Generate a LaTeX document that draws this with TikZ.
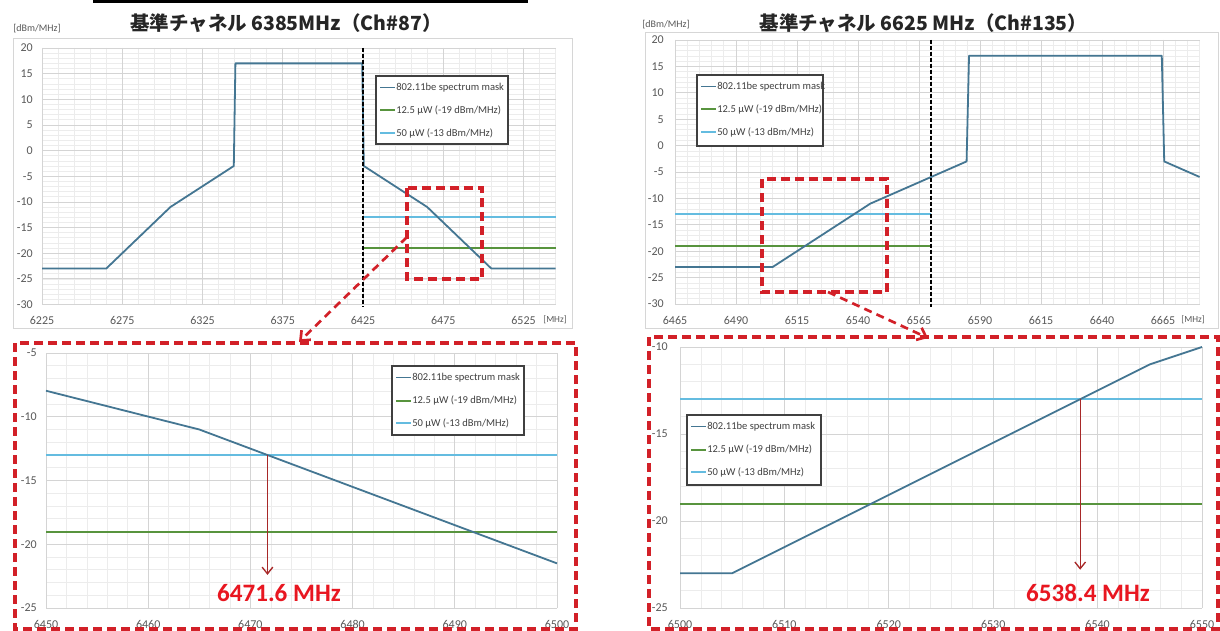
\documentclass[tikz,border=0pt]{standalone}
\usepackage{fontspec}
\setmainfont{Carlito}
\newfontfamily\jpfont{Noto Sans CJK JP}
\usetikzlibrary{arrows.meta}
\definecolor{maskc}{RGB}{68,118,146}
\definecolor{greenc}{RGB}{88,148,62}
\definecolor{bluec}{RGB}{100,188,224}
\definecolor{redd}{RGB}{210,32,40}
\definecolor{redl}{RGB}{232,22,32}
\definecolor{arrowc}{RGB}{168,40,40}
\definecolor{tickc}{RGB}{89,89,89}
\definecolor{legc}{RGB}{64,64,64}
\definecolor{gridmaj}{RGB}{212,212,212}
\definecolor{gridmin}{RGB}{236,236,236}
\definecolor{framec}{RGB}{214,214,214}
\newcommand{\legendbox}[5]{%
  \draw[legframe] (#2,#3) rectangle (#4,#5);
  \draw[maskl] (#2+4,#3+11.5) -- (#2+19,#3+11.5);
  \node[legtext] (#1-a) at (#2+20,#3+11.5) {802.11be spectrum mask};
  \draw[greenl] (#2+4,#3+34.5) -- (#2+19,#3+34.5);
  \node[legtext] (#1-b) at (#2+20,#3+34.5) {12.5 μW (-19 dBm/MHz)};
  \draw[bluel] (#2+4,#3+57) -- (#2+19,#3+57);
  \node[legtext] (#1-c) at (#2+20,#3+57) {50 μW (-13 dBm/MHz)};
}
\begin{document}
\begin{tikzpicture}[x=0.75pt,y=-0.75pt,
  gmin/.style={draw=gridmin,line width=0.5pt},
  gmaj/.style={draw=gridmaj,line width=0.6pt},
  tickl/.style={font=\fontsize{9}{10}\selectfont,text=tickc,inner sep=0pt},
  unitl/.style={font=\fontsize{7}{8}\selectfont,text=tickc,inner sep=0pt},
  legtext/.style={font=\fontsize{7.9}{9}\selectfont,text=legc,anchor=west,inner sep=0pt},
  legframe/.style={draw=legc,line width=0.9pt,fill=white},
  maskl/.style={draw=maskc,line width=1.35pt,line join=round},
  greenl/.style={draw=greenc,line width=1.5pt},
  bluel/.style={draw=bluec,line width=1.5pt},
  frameb/.style={draw=framec,line width=0.7pt},
  reddash/.style={draw=redd,line width=2.6pt,dash pattern=on 7pt off 3.5pt},
  reddarrow/.style={draw=redd,line width=2pt,dash pattern=on 6pt off 4pt,-{Straight Barb[length=6pt,width=10pt,line width=2pt]}},
  blackdash/.style={draw=black,line width=1.5pt,dash pattern=on 3pt off 1.5pt},
  valarrow/.style={draw=arrowc,line width=1pt,-{Straight Barb[length=5pt,width=8pt]}},
  vallabel/.style={font=\fontsize{18.8}{20}\selectfont\bfseries,text=redl,inner sep=0pt},
  titlel/.style={font=\jpfont\fontsize{14.6}{16}\selectfont\bfseries,text=black!85,inner sep=0pt}
]
\useasboundingbox (0,0) rectangle (1220,631);
\fill[white] (0,0) rectangle (1220,631);

% top bar and titles
\fill[black] (93,0) rectangle (528,3.5);
\node[titlel] (title1) at (286,23) {基準チャネル 6385MHz（Ch\#87）};
\node[titlel] (title2) at (923.5,23) {基準チャネル 6625 MHz（Ch\#135）};
\node[unitl,font=\fontsize{7.5}{8}\selectfont] (unit1) at (37,29) {[dBm/MHz]};
\node[unitl,font=\fontsize{7.5}{8}\selectfont] (unit2) at (666,25) {[dBm/MHz]};

% frames
\draw[frameb] (13,38) rectangle (572,328);
\draw[frameb] (645,32) rectangle (1218,328);

% ===== top-left chart =====
\begin{scope}[shift={(31.5pt,-36pt)},x=1.20375pt,y=3.8475pt]
  \foreach \u in {0,10,...,320} \draw[gmin] (\u,0) -- (\u,-50);
  \foreach \w in {0,-1,...,-50} \draw[gmin] (0,\w) -- (320,\w);
  \foreach \u in {0,50,...,300} \draw[gmaj] (\u,0) -- (\u,-50);
  \foreach \w in {0,-5,...,-50} \draw[gmaj] (0,\w) -- (320,\w);
  \foreach \v in {20,15,...,-30}
    \node[tickl,anchor=east,xshift=-6.75pt] (tly\v) at (0,\v-20) {\v};
  \foreach \f [evaluate=\f as \u using int(\f-6225)] in {6225,6275,...,6525}
    \node[tickl,yshift=-12pt] (tlx\f) at (\u,-50) {\f};
  \draw[bluel] (200,-33) -- (320,-33);
  \draw[greenl] (200,-39) -- (320,-39);
  \draw[maskl] (0,-43) -- (40,-43) -- (80,-31) -- (119.5,-23) -- (120.5,-3)
    -- (199.5,-3) -- (200.5,-23) -- (240,-31) -- (280,-43) -- (320,-43);
  \draw[blackdash] (200,0) -- (200,-50.5);
\end{scope}
\node[unitl] (tlunit) at (555,320) {[MHz]};
\legendbox{lg1}{376}{76}{508}{144}

% ===== top-right chart =====
\begin{scope}[shift={(506.25pt,-30pt)},x=1.83pt,y=3.96pt]
  \foreach \u in {0,5,...,215} \draw[gmin] (\u,0) -- (\u,-50);
  \foreach \w in {0,-1,...,-50} \draw[gmin] (0,\w) -- (215,\w);
  \foreach \u in {0,25,...,200} \draw[gmaj] (\u,0) -- (\u,-50);
  \foreach \w in {0,-5,...,-50} \draw[gmaj] (0,\w) -- (215,\w);
  \foreach \v in {20,15,...,-30}
    \node[tickl,anchor=east,xshift=-8.25pt] (try\v) at (0,\v-20) {\v};
  \foreach \f [evaluate=\f as \u using int(\f-6465)] in {6465,6490,...,6665}
    \node[tickl,yshift=-12pt] (trx\f) at (\u,-50) {\f};
  \draw[bluel] (0,-33) -- (105,-33);
  \draw[greenl] (0,-39) -- (105,-39);
  \draw[maskl] (0,-43) -- (40,-43) -- (80,-31) -- (119.5,-23) -- (120.5,-3)
    -- (199.5,-3) -- (200.5,-23) -- (215,-25.94);
  \draw[blackdash] (105,0) -- (105,-50.5);
\end{scope}
\node[unitl] (trunit) at (1193,320) {[MHz]};
\legendbox{lg2}{697}{75}{823}{146}

% ===== bottom-left chart =====
\begin{scope}[shift={(34.5pt,-264.75pt)},x=7.665pt,y=9.5625pt]
  \foreach \u in {0,2,...,50} \draw[gmin] (\u,0) -- (\u,-20);
  \foreach \w in {0,-1,...,-20} \draw[gmin] (0,\w) -- (50,\w);
  \foreach \u in {0,10,...,50} \draw[gmaj] (\u,0) -- (\u,-20);
  \foreach \w in {0,-5,...,-20} \draw[gmaj] (0,\w) -- (50,\w);
  \foreach \v in {-5,-10,-15,-20,-25}
    \node[tickl,anchor=east,xshift=-6.75pt] (bly\v) at (0,\v+5) {\v};
  \foreach \f [evaluate=\f as \u using int(\f-6450)] in {6450,6460,...,6500}
    \node[tickl,yshift=-12pt] (blx\f) at (\u,-20) {\f};
  \draw[bluel] (0,-8) -- (50,-8);
  \draw[greenl] (0,-14) -- (50,-14);
  \draw[maskl] (0,-2.96) -- (15,-6) -- (50,-16.5);
  \coordinate (blcross) at (21.67,-8);
  \coordinate (bltip) at (21.67,-17.4);
  \draw[valarrow] (blcross) -- (bltip);
\end{scope}
\legendbox{lg3}{392}{366}{524}{435}
\node[vallabel] (val1) at (279,593) {6471.6 MHz};

% ===== bottom-right chart =====
\begin{scope}[shift={(510pt,-260.25pt)},x=7.83pt,y=13.05pt]
  \foreach \u in {0,2,...,50} \draw[gmin] (\u,0) -- (\u,-15);
  \foreach \w in {0,-1,...,-15} \draw[gmin] (0,\w) -- (50,\w);
  \foreach \u in {0,10,...,50} \draw[gmaj] (\u,0) -- (\u,-15);
  \foreach \w in {0,-5,...,-15} \draw[gmaj] (0,\w) -- (50,\w);
  \foreach \v in {-10,-15,-20,-25}
    \node[tickl,anchor=east,xshift=-9pt] (bry\v) at (0,\v+10) {\v};
  \foreach \f [evaluate=\f as \u using int(\f-6500)] in {6500,6510,...,6550}
    \node[tickl,yshift=-12pt] (brx\f) at (\u,-15) {\f};
  \draw[bluel] (0,-3) -- (50,-3);
  \draw[greenl] (0,-9) -- (50,-9);
  \draw[maskl] (0,-13) -- (5,-13) -- (45,-1) -- (50,0);
  \coordinate (brcross) at (38.33,-3);
  \coordinate (brtip) at (38.33,-12.8);
  \draw[valarrow] (brcross) -- (brtip);
\end{scope}
\legendbox{lg4}{687}{415}{821}{485}
\node[vallabel] (val2) at (1088,593) {6538.4 MHz};

% ===== red zoom boxes and connectors =====
\draw[reddash] (407,188) rectangle (482,279);
\draw[reddash] (762,179) rectangle (887,292);
\draw[reddash] (15,343) rectangle (576,629);
\draw[reddash] (649,337) rectangle (1218,629);
\coordinate (tlsrc) at (407,237);
\coordinate (tldst) at (299,342);
\coordinate (trsrc) at (828,292);
\coordinate (trdst) at (928,338);
\draw[reddarrow] (tlsrc) -- (tldst);
\draw[reddarrow] (trsrc) -- (trdst);
\end{tikzpicture}
\end{document}
